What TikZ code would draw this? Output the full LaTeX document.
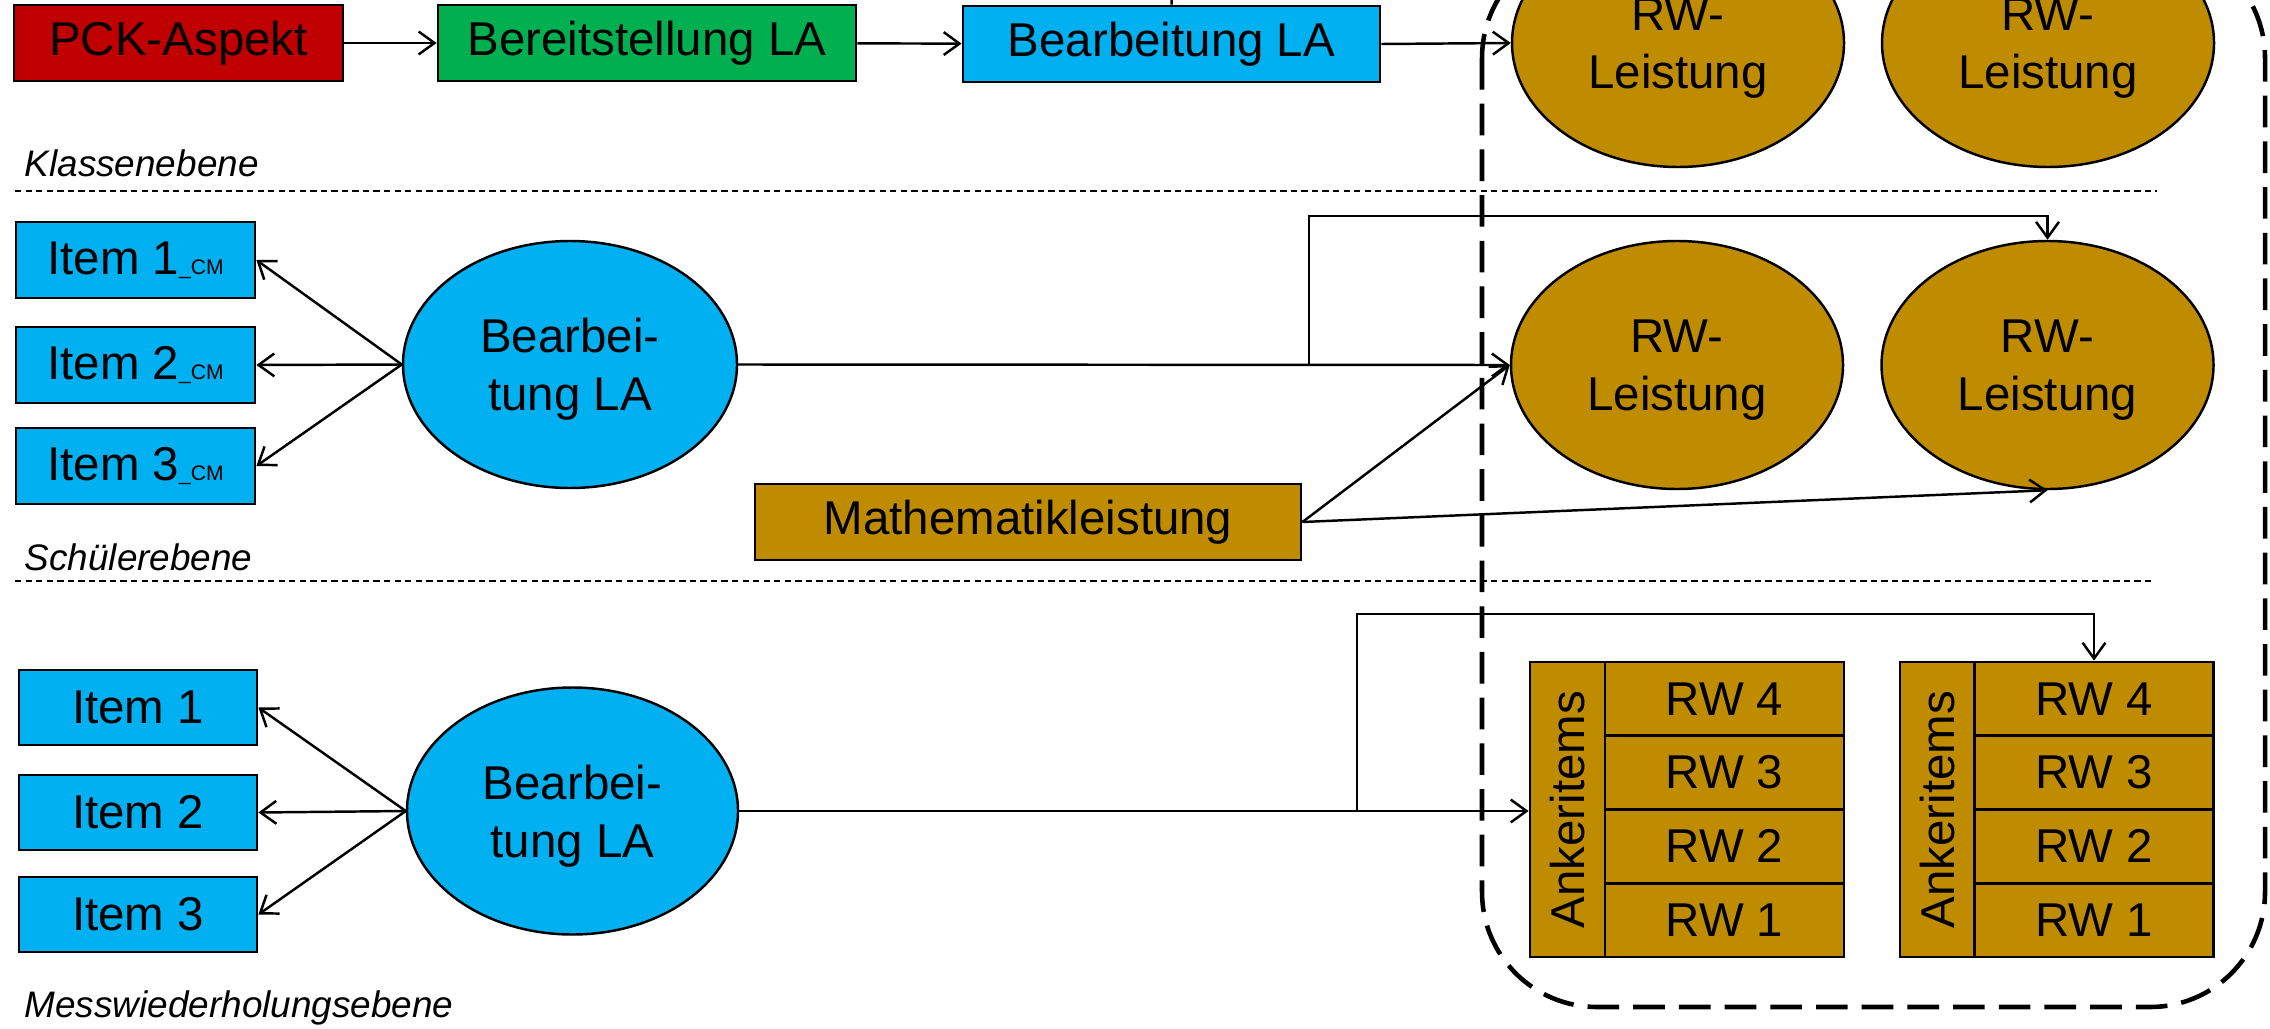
\documentclass[tikz,border=0pt]{standalone}
\usepackage{fontspec}
\setmainfont{Liberation Sans}
\usepackage{tikz}
\usetikzlibrary{arrows.meta,positioning,shapes.geometric,calc}
\definecolor{mwred}{HTML}{C00000}
\definecolor{mwgreen}{HTML}{00B050}
\definecolor{mwblue}{HTML}{00B0F0}
\definecolor{mwgold}{HTML}{BF8C00}
\tikzset{
mwbox/.style={rectangle,draw,line width=0.8pt,align=center,inner sep=0pt,minimum height=0.76cm},
mwoval/.style={ellipse,draw,line width=0.7pt,align=center,inner sep=0pt,text depth=0pt,minimum width=3.32cm,minimum height=2.48cm},
mwcell/.style={rectangle,draw,line width=0.8pt,fill=mwgold,inner sep=0pt,minimum width=2.39cm,minimum height=0.7375cm},
mwanker/.style={rectangle,draw,line width=0.8pt,fill=mwgold,inner sep=0pt,minimum width=0.75cm,minimum height=2.95cm},
mwarr/.style={-{Straight Barb[length=4.5pt,width=6.5pt]},line width=0.7pt},
mwline/.style={line width=0.7pt},
mwsep/.style={line width=0.4pt,dash pattern=on 1.8pt off 1.2pt},
mwframe/.style={line width=1.3pt,dash pattern=on 9pt off 4pt,rounded corners=1.15cm},
mwlevel/.style={anchor=west,inner sep=0pt,font=\fontsize{10.5}{12}\selectfont\itshape}
}
\newcommand{\mwsub}{{\fontsize{6}{7}\selectfont\_CM}}

\begin{document}
\begin{tikzpicture}[
x=1cm,
y=1cm,
every node/.style={font=\fontsize{13.5}{16.5}\selectfont}
]
\useasboundingbox (0,0) rectangle (22.70,-10.28);
% Klassenebene
\node[mwbox,fill=mwred,minimum width=3.29cm] (pck) at (1.785,-0.43) {PCK-Aspekt};
\node[mwbox,fill=mwgreen,minimum width=4.18cm] (bereit) at (6.47,-0.43) {Bereitstellung LA};
\node[mwbox,fill=mwblue,minimum width=4.17cm] (bearbtop) at (11.715,-0.44) {Bearbeitung LA};
\node[mwoval,fill=mwgold] (rwa) at (16.78,-0.43) {RW-\\Leistung};
\node[mwoval,fill=mwgold] (rwb) at (20.48,-0.43) {RW-\\Leistung};
\node[mwlevel] (klasse) at (0.24,-1.63) {Klassenebene};
\coordinate (topin) at (11.72,0.30);
% Schuelerebene
\node[mwbox,fill=mwblue,minimum width=2.39cm] (itemcma) at (1.355,-2.60) {Item 1\mwsub};
\node[mwbox,fill=mwblue,minimum width=2.39cm] (itemcmb) at (1.355,-3.65) {Item 2\mwsub};
\node[mwbox,fill=mwblue,minimum width=2.39cm] (itemcmc) at (1.355,-4.66) {Item 3\mwsub};
\node[mwoval,fill=mwblue,minimum width=3.34cm,minimum height=2.47cm] (bearbmid) at (5.70,-3.645) {Bearbei-\\tung LA};
\node[mwoval,fill=mwgold] (rwc) at (16.77,-3.65) {RW-\\Leistung};
\node[mwoval,fill=mwgold] (rwd) at (20.475,-3.65) {RW-\\Leistung};
\node[mwbox,fill=mwgold,minimum width=5.46cm] (mathe) at (10.28,-5.22) {Mathematikleistung};
\node[mwlevel] (schueler) at (0.24,-5.57) {Schülerebene};
\coordinate (midsplit) at (13.09,-3.65);
\coordinate (midturn) at (13.09,-2.16);
% Messwiederholungsebene
\node[mwbox,fill=mwblue,minimum width=2.38cm,minimum height=0.75cm] (itema) at (1.38,-7.075) {Item 1};
\node[mwbox,fill=mwblue,minimum width=2.38cm,minimum height=0.75cm] (itemb) at (1.38,-8.125) {Item 2};
\node[mwbox,fill=mwblue,minimum width=2.38cm,minimum height=0.75cm] (itemc) at (1.38,-9.145) {Item 3};
\node[mwoval,fill=mwblue,minimum width=3.31cm,minimum height=2.47cm] (bearblow) at (5.725,-8.11) {Bearbei-\\tung LA};
\node[mwanker] (ankera) at (15.675,-8.095) {\rotatebox{90}{Ankeritems}};
\node[mwcell] (rwfoura) at (17.245,-6.989) {RW 4};
\node[mwcell] (rwthreea) at (17.245,-7.726) {RW 3};
\node[mwcell] (rwtwoa) at (17.245,-8.464) {RW 2};
\node[mwcell] (rwonea) at (17.245,-9.201) {RW 1};
\node[mwanker] (ankerb) at (19.375,-8.095) {\rotatebox{90}{Ankeritems}};
\node[mwcell] (rwfourb) at (20.94,-6.989) {RW 4};
\node[mwcell] (rwthreeb) at (20.94,-7.726) {RW 3};
\node[mwcell] (rwtwob) at (20.94,-8.464) {RW 2};
\node[mwcell] (rwoneb) at (20.94,-9.201) {RW 1};
\node[mwlevel] (messw) at (0.24,-10.08) {Messwiederholungsebene};
\coordinate (lowsplit) at (13.57,-8.11);
\coordinate (lowturn) at (13.57,-6.14);
% level separators and frame
\draw[mwsep] (0.15,-1.91) -- (21.57,-1.91);
\draw[mwsep] (0.15,-5.81) -- (21.55,-5.81);
\draw[mwframe] (14.82,0.57) rectangle (22.65,-10.07);
% connectors
\draw[mwline] (topin) -- (bearbtop.north);
\draw[mwarr] (pck) -- (bereit);
\draw[mwarr] (bereit) -- (bearbtop);
\draw[mwarr] (bearbtop.east) -- (rwa.west);
\draw[mwarr] (bearbmid.west) -- (itemcma.east);
\draw[mwarr] (bearbmid.west) -- (itemcmb.east);
\draw[mwarr] (bearbmid.west) -- (itemcmc.east);
\draw[mwarr] (bearbmid.east) -- (rwc.west);
\draw[mwarr] (midsplit) -- (midturn) -| (rwd.north);
\draw[mwarr] (mathe.east) -- (rwc.west);
\draw[mwarr] (mathe.east) -- (rwd.south);
\draw[mwarr] (bearblow.west) -- (itema.east);
\draw[mwarr] (bearblow.west) -- (itemb.east);
\draw[mwarr] (bearblow.west) -- (itemc.east);
\draw[mwarr] (bearblow.east) -- (bearblow.east -| ankera.west);
\draw[mwarr] (lowsplit) -- (lowturn) -| (rwfourb.north);
\end{tikzpicture}
\end{document}
